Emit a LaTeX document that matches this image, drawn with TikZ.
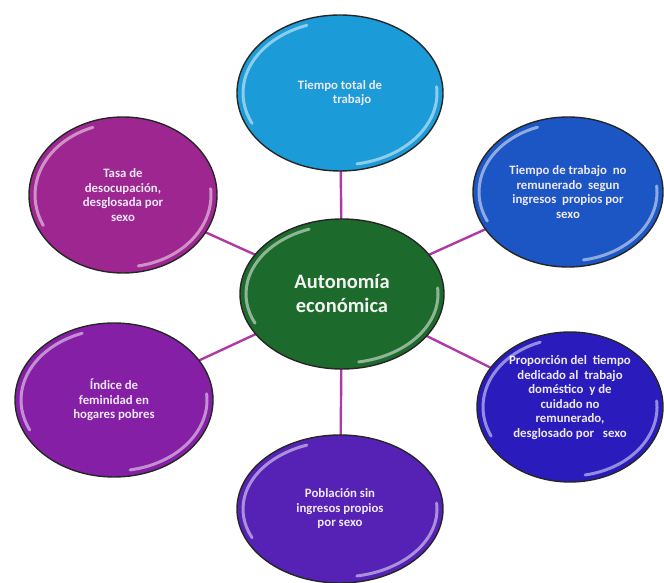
\documentclass[tikz,border=0pt]{standalone}
\usepackage{fontspec}
\setmainfont{Carlito}
\usepackage{xcolor}
\usepackage{tikz}
\usetikzlibrary{shapes.geometric,positioning}

\definecolor{cyanbub}{HTML}{1B9BD7}
\definecolor{bluebub}{HTML}{1C55C4}
\definecolor{greenbub}{HTML}{1D6B2C}
\definecolor{indigobub}{HTML}{2A1CBC}
\definecolor{violetbub}{HTML}{5522B5}
\definecolor{purplebub}{HTML}{8520A6}
\definecolor{magentabub}{HTML}{9E2690}
\definecolor{linkcol}{HTML}{B03AA5}
\definecolor{txtcol}{HTML}{EEE8F4}

\begin{document}
\begin{tikzpicture}[x=1pt, y=1pt,
                    bubble/.style={ellipse, draw=black!85, line width=1.4pt, inner sep=0pt,
                                   align=center, text=txtcol,
                                   font=\fontsize{12.8}{14.5}\selectfont\bfseries},
                    hub/.style={bubble, text=white!95!black,
                                font=\fontsize{20.5}{24}\selectfont\bfseries},
                    link/.style={line width=2.4pt, linkcol},
                    gloss/.style={white, opacity=.5, line width=3pt, line cap=round},
                   ]

\useasboundingbox (0,0) rectangle (664,583);

% links first, bubbles on top
\coordinate (hubc) at (342,289);
\foreach \p in {(340,490),(568,391),(570,176),(340,74),(114,183),(123,388)}
  \draw[link] (hubc) -- \p;

\node[bubble, fill=cyanbub, minimum width=206pt, minimum height=156pt] (tiempo) at (340,490)
  {Tiempo total de\\\hspace*{24pt}trabajo};
\node[bubble, fill=bluebub, minimum width=190pt, minimum height=150pt] (noremun) at (568,391)
  {Tiempo de trabajo\ \ no\\remunerado\ \ segun\\ingresos\ \ propios por\\sexo};
\node[bubble, fill=indigobub, minimum width=186pt, minimum height=150pt] (cuidado) at (570,176)
  {Proporción del\ \ tiempo\\dedicado al\ \ trabajo\\doméstico\ \ y de\\cuidado no\\remunerado,\\desglosado por\ \ \ sexo\\[6pt]\mbox{}};
\node[bubble, fill=violetbub, minimum width=206pt, minimum height=148pt] (sinping) at (340,74)
  {Población sin\\ingresos propios\\por sexo};
\node[bubble, fill=purplebub, minimum width=198pt, minimum height=154pt] (feminid) at (114,183)
  {Índice de\\feminidad en\\hogares pobres};
\node[bubble, fill=magentabub, minimum width=188pt, minimum height=156pt] (desocup) at (123,388)
  {Tasa de\\desocupación,\\desglosada por\\sexo};
\node[hub, fill=greenbub, minimum width=204pt, minimum height=150pt] (hub) at (hubc)
  {Autonomía\\económica};

% glossy rims
\foreach \n/\rx/\ry in {tiempo/97/72, noremun/89/69, cuidado/87/69, sinping/97/68,
                        feminid/93/71, desocup/88/72, hub/96/69}{
  \draw[gloss] ([shift={(110:\rx pt and \ry pt)}]\n.center)
    arc[start angle=110, end angle=205, x radius=\rx pt, y radius=\ry pt];
  \draw[gloss] ([shift={(-80:\rx pt and \ry pt)}]\n.center)
    arc[start angle=-80, end angle=5, x radius=\rx pt, y radius=\ry pt];
}

\end{tikzpicture}
\end{document}
